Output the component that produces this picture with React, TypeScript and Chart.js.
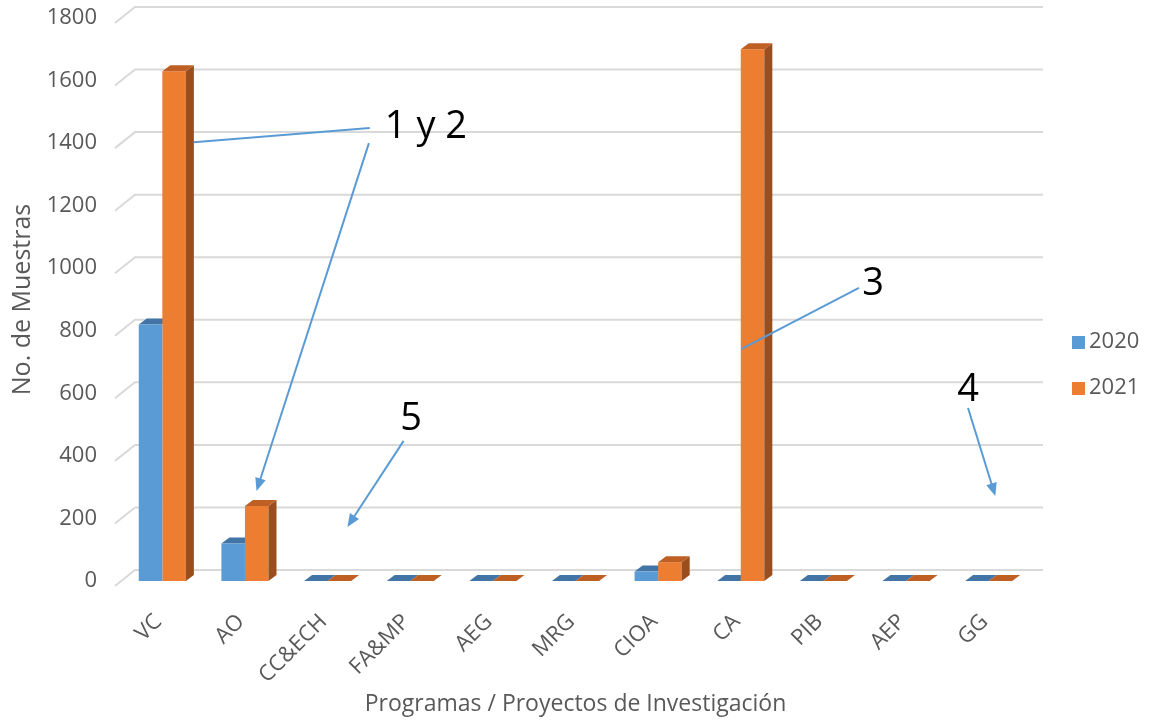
import React, { useEffect, useRef } from "react";
import { Chart, registerables } from "chart.js";
Chart.register(...registerables);

const categories = ["VC", "AO", "CC&ECH", "FA&MP", "AEG", "MRG", "CIOA", "CA", "PIB", "AEP", "GG"];
const seriesLabels = ["2020", "2021"];
const values2020 = [820, 120, 0, 0, 0, 0, 30, 0, 0, 0, 0];
const values2021 = [1630, 240, 0, 0, 0, 0, 60, 1700, 0, 0, 0];
const yMin = 0;
const yMax = 1800;
const yStep = 200;
const yTitle = "No. de Muestras";
const xTitle = "Programas / Proyectos de Investigación";

const frontColors = ["#5B9BD5", "#ED7D31"];
const topColors = ["#4275A5", "#BE5F23"];
const sideColors = ["#3C6B96", "#9A4D1D"];

// annotation texts at (category index, value)
const noteTexts = ["1 y 2", "3", "5", "4"];
const noteX = [3.19, 8.6, 3.01, 9.75];
const noteY = [1451, 950, 518, 611];
// annotation lines: from (index, value) to (index, value)
const lineFromX = [0.38, 2.5, 7.01, 2.92, 9.75];
const lineFromY = [1403, 1400, 742, 448, 553];
const lineToX = [2.51, 1.14, 8.43, 2.24, 10.08];
const lineToY = [1448, 288, 937, 173, 272];
const lineArrow = [false, true, false, true, true];

const FONT = "'Open Sans', 'Noto Sans', sans-serif";
const TEXT = "#595959";
const DEPTH_X = 8;
const DEPTH_Y = -6;

function drawTop(ctx: any, el: any, color: string) {
  const { x, y, width } = el.getProps(["x", "y", "width"], true);
  const x0 = x - width / 2;
  const x1 = x + width / 2;
  ctx.fillStyle = color;
  ctx.beginPath();
  ctx.moveTo(x0, y);
  ctx.lineTo(x1, y);
  ctx.lineTo(x1 + DEPTH_X, y + DEPTH_Y);
  ctx.lineTo(x0 + DEPTH_X, y + DEPTH_Y);
  ctx.closePath();
  ctx.fill();
}

function drawSide(ctx: any, el: any, color: string) {
  const { x, y, base, width } = el.getProps(["x", "y", "base", "width"], true);
  const x1 = x + width / 2;
  ctx.fillStyle = color;
  ctx.beginPath();
  ctx.moveTo(x1, y);
  ctx.lineTo(x1 + DEPTH_X, y + DEPTH_Y);
  ctx.lineTo(x1 + DEPTH_X, base + DEPTH_Y);
  ctx.lineTo(x1, base);
  ctx.closePath();
  ctx.fill();
}

const threeD = {
  id: "threeD",
  beforeDatasetsDraw(chart: any) {
    const ctx = chart.ctx;
    const y = chart.scales.y;
    const { left, right } = chart.chartArea;
    ctx.save();
    ctx.strokeStyle = "#D9D9D9";
    ctx.lineWidth = 2;
    y.ticks.forEach((t: any) => {
      const yf = y.getPixelForValue(t.value);
      ctx.beginPath();
      ctx.moveTo(left - 6, yf + 5);
      ctx.lineTo(left + 14, yf - 11);
      ctx.lineTo(right + 13, yf - 11);
      ctx.stroke();
    });
    const n = chart.data.datasets.length;
    for (let d = 0; d < n - 1; d++) {
      chart.getDatasetMeta(d).data.forEach((el: any) => drawTop(ctx, el, topColors[d]));
    }
    ctx.restore();
  },
  afterDatasetsDraw(chart: any) {
    const ctx = chart.ctx;
    const n = chart.data.datasets.length;
    ctx.save();
    chart.getDatasetMeta(n - 1).data.forEach((el: any) => {
      drawSide(ctx, el, sideColors[n - 1]);
      drawTop(ctx, el, topColors[n - 1]);
    });
    ctx.restore();
  },
  afterDraw(chart: any) {
    const ctx = chart.ctx;
    const xs = chart.scales.x;
    const ys = chart.scales.y;
    ctx.save();
    ctx.strokeStyle = "#5B9BD5";
    ctx.fillStyle = "#5B9BD5";
    ctx.lineWidth = 2;
    for (let i = 0; i < lineFromX.length; i++) {
      const ax = xs.getPixelForValue(lineFromX[i]);
      const ay = ys.getPixelForValue(lineFromY[i]);
      const bx = xs.getPixelForValue(lineToX[i]);
      const by = ys.getPixelForValue(lineToY[i]);
      const ang = Math.atan2(by - ay, bx - ax);
      const head = 14;
      const ex = lineArrow[i] ? bx - Math.cos(ang) * head * 0.8 : bx;
      const ey = lineArrow[i] ? by - Math.sin(ang) * head * 0.8 : by;
      ctx.beginPath();
      ctx.moveTo(ax, ay);
      ctx.lineTo(ex, ey);
      ctx.stroke();
      if (lineArrow[i]) {
        ctx.beginPath();
        ctx.moveTo(bx, by);
        ctx.lineTo(bx - Math.cos(ang - 0.4) * head, by - Math.sin(ang - 0.4) * head);
        ctx.lineTo(bx - Math.cos(ang + 0.4) * head, by - Math.sin(ang + 0.4) * head);
        ctx.closePath();
        ctx.fill();
      }
    }
    ctx.fillStyle = "#000000";
    ctx.font = `38px ${FONT}`;
    ctx.textAlign = "center";
    ctx.textBaseline = "middle";
    for (let i = 0; i < noteTexts.length; i++) {
      ctx.fillText(noteTexts[i], xs.getPixelForValue(noteX[i]), ys.getPixelForValue(noteY[i]));
    }
    ctx.font = `22px ${FONT}`;
    ctx.textAlign = "left";
    ctx.textBaseline = "middle";
    seriesLabels.forEach((lab, i) => {
      const cy = 342 + i * 46;
      ctx.fillStyle = frontColors[i];
      ctx.fillRect(1072, cy - 6, 13, 13);
      ctx.fillStyle = TEXT;
      ctx.fillText(lab, 1089, cy);
    });
    ctx.restore();
  },
};

export default function App() {
  const ref = useRef<HTMLCanvasElement | null>(null);
  useEffect(() => {
    if (!ref.current) return;
    const chart = new Chart(ref.current, {
      type: "bar",
      data: {
        labels: categories,
        datasets: [
          { label: seriesLabels[0], data: values2020, backgroundColor: frontColors[0] },
          { label: seriesLabels[1], data: values2021, backgroundColor: frontColors[1] },
        ],
      },
      options: {
        responsive: false,
        animation: false,
        devicePixelRatio: 1,
        layout: { padding: { top: 18, right: 138, left: 0, bottom: 0 }, autoPadding: false },
        plugins: { legend: { display: false }, tooltip: { enabled: false } },
        datasets: { bar: { categoryPercentage: 0.57, barPercentage: 1 } },
        scales: {
          x: {
            grid: { display: false, drawTicks: false },
            border: { display: false },
            ticks: { minRotation: 45, maxRotation: 45, padding: 28, labelOffset: -4, color: TEXT, font: { family: FONT, size: 22 } },
            title: { display: true, text: xTitle, color: TEXT, font: { family: FONT, size: 23 }, padding: { top: 0, bottom: 3 } },
            afterFit: (s: any) => { s.height = 140; },
          },
          y: {
            min: yMin,
            max: yMax,
            grid: { display: false, drawTicks: true, tickLength: 24 },
            border: { display: false },
            ticks: {
              stepSize: yStep,
              padding: 0,
              color: TEXT,
              font: { family: FONT, size: 22 },
              callback: (v: any) => String(v),
            },
            title: { display: true, text: yTitle, color: TEXT, font: { family: FONT, size: 25 }, padding: { top: 8, bottom: 0 } },
            afterFit: (s: any) => { s.width = 121; },
          },
        },
      } as any,
      plugins: [threeD],
    });
    return () => chart.destroy();
  }, []);
  return (
    <div style={{ position: "fixed", left: 0, top: 0, width: 1168, height: 721, background: "#fff" }}>
      <canvas ref={ref} width={1168} height={721} />
    </div>
  );
}
